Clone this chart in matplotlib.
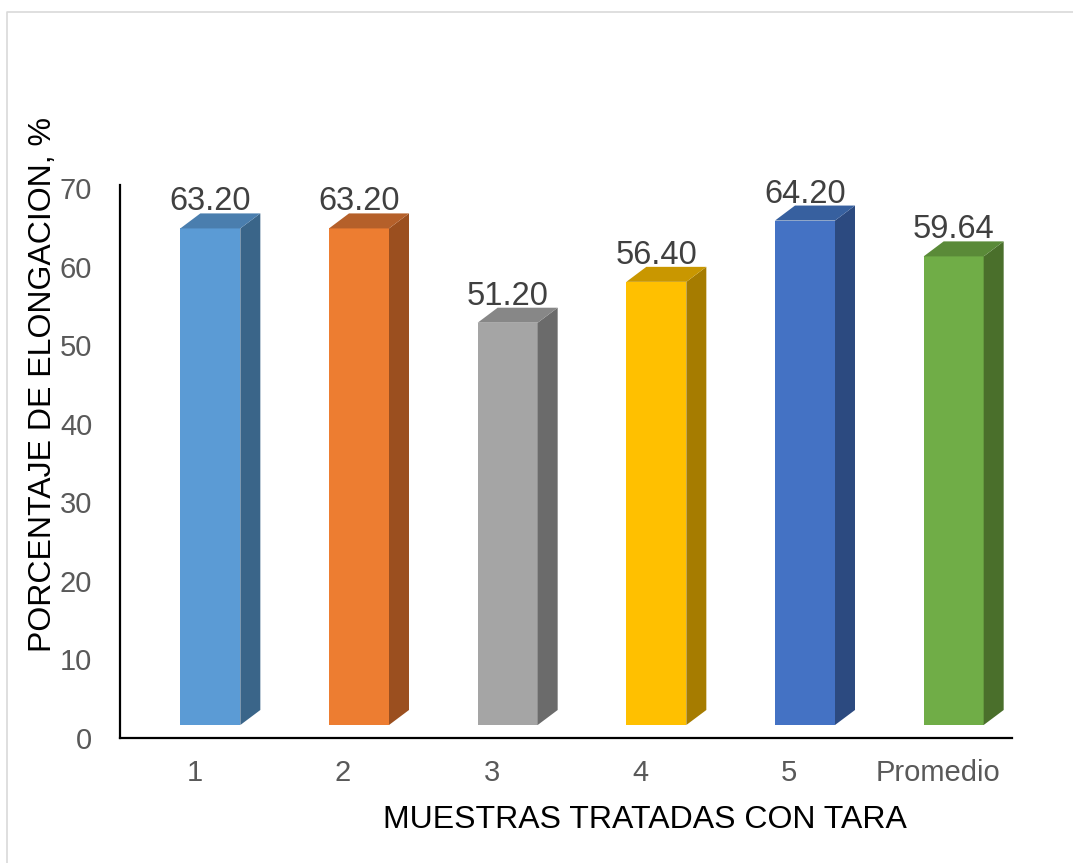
#!/usr/bin/env python3

import matplotlib.pyplot as plt
from matplotlib.lines import Line2D
from matplotlib.patches import Polygon, Rectangle

plt.rcParams["font.family"] = ["Liberation Sans", "DejaVu Sans"]

categories = ["1", "2", "3", "4", "5", "Promedio"]
values = [63.20, 63.20, 51.20, 56.40, 64.20, 59.64]

front_colors = ["#5B9BD5", "#ED7D31", "#A5A5A5", "#FFC000", "#4472C4", "#70AD47"]
side_colors = ["#3A6589", "#9B4F1F", "#6B6B6B", "#A67C00", "#2C4A80", "#4A6F2B"]
top_colors = ["#4A7EAE", "#B5602A", "#878787", "#C99700", "#37609F", "#5A8A38"]

W, H, DPI = 1073, 863, 100
AX_L, AX_R, AX_B, AX_T = 120, 1012, 738, 185
Y_MAX = 70.38

fig = plt.figure(figsize=(W / DPI, H / DPI), dpi=DPI)
ax = fig.add_axes([AX_L / W, (H - AX_B) / H, (AX_R - AX_L) / W, (AX_B - AX_T) / H])

n = len(categories)
px_x = (AX_R - AX_L) / n          # pixels per x unit
px_y = (AX_B - AX_T) / Y_MAX      # pixels per y unit

# 3D look (in pixels, converted to data units)
front_off = -14 / px_x
front_w = 60 / px_x
depth_x = 20 / px_x
depth_y = 15 / px_y
floor = 13 / px_y

for i, (v, fc, sc, tc) in enumerate(zip(values, front_colors, side_colors, top_colors)):
    x0 = i + 0.5 + front_off
    x1 = x0 + front_w
    y0 = floor
    y1 = floor + v
    ax.add_patch(Rectangle((x0, y0), front_w, v, facecolor=fc, edgecolor="none", zorder=3))
    ax.add_patch(Polygon([(x1, y0), (x1 + depth_x, y0 + depth_y), (x1 + depth_x, y1 + depth_y), (x1, y1)],
                         closed=True, facecolor=sc, edgecolor="none", zorder=3))
    ax.add_patch(Polygon([(x0, y1), (x0 + depth_x, y1 + depth_y), (x1 + depth_x, y1 + depth_y), (x1, y1)],
                         closed=True, facecolor=tc, edgecolor="none", zorder=3))
    ax.text((x0 + x1) / 2, y1 + depth_y + 3 / px_y, f"{v:.2f}", ha="center", va="baseline",
            fontsize=23.5, color="#404040", zorder=4)

ax.set_xlim(0, n)
ax.set_ylim(0, Y_MAX)
ax.set_xticks([i + 0.5 for i in range(n)])
ax.set_xticklabels(categories)
ax.set_yticks(range(0, 71, 10))
ax.tick_params(axis="both", length=0, labelsize=21, labelcolor="#595959")
ax.tick_params(axis="y", pad=20)
ax.tick_params(axis="x", pad=15)
for side in ("top", "right"):
    ax.spines[side].set_visible(False)
for side in ("left", "bottom"):
    ax.spines[side].set_color("black")
    ax.spines[side].set_linewidth(1.6)

fig.text(645 / W, 1 - 820 / H, "MUESTRAS TRATADAS CON TARA", ha="center", va="center",
         fontsize=23, color="black")
fig.text(43 / W, 1 - 384 / H, "PORCENTAJE DE ELONGACION, %", rotation=90, ha="center", va="center",
         fontsize=23, color="black")

# light chart-area frame (only left and top edges fall inside the picture)
fig.lines.append(Line2D([7 / W, 7 / W, 1], [0, 1 - 12 / H, 1 - 12 / H], transform=fig.transFigure,
                        color="#D9D9D9", linewidth=1.2))

fig.savefig("out.png", dpi=DPI)
